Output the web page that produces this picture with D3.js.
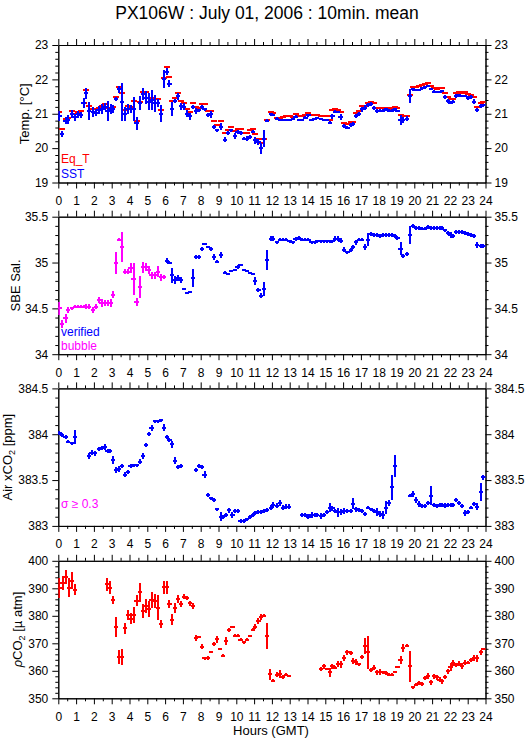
<!DOCTYPE html>
<html>
<head>
<meta charset="utf-8">
<script src="https://cdn.jsdelivr.net/npm/d3@7"></script>
<style>
body { margin: 0; background: #fff; }
svg { display: block; font-family: "Liberation Sans", Arial, Helvetica, sans-serif; }
</style>
</head>
<body>
<svg width="529" height="739"></svg>
<script>
// ---- data (hours GMT) ----
var hoursA = [0.06,0.22,0.41,0.56,0.75,0.92,1.09,1.25,1.42,1.55,1.74,1.93,2.10,2.27,2.43,2.60,2.77,2.96,
  3.09,3.24,3.41,3.58,3.73,3.91,4.06,4.23,4.40,4.57,4.74,4.93,5.09,5.24,5.43,5.60,5.75,5.94,
  6.09,6.24,6.39,6.54,6.72,6.89,7.06,7.23,7.40,7.58,7.75,7.90,8.09,8.22,8.39,8.56,8.73,8.91,
  9.12,9.36,9.55,9.72,9.91,10.07,10.24,10.43,10.60,10.77,10.92,11.05,11.24,11.39];
var hoursB = [11.56,11.74,11.93,12.08,12.27,12.44,12.62,12.81,12.99,13.18,13.33,13.52,13.71,13.88,14.05,
  14.23,14.40,14.55,14.74,14.93,15.08,15.25,15.40,15.55,15.71,15.86,16.05,16.24,16.43,16.56,
  16.74,16.89,17.08,17.23,17.40,17.55,17.74,17.89,18.06,18.24,18.39,18.58,18.73,18.90,19.05,
  19.23,19.38,19.57,19.74,19.93,20.11,20.26,20.45,20.60,20.77,20.92,21.11,21.26,21.42,21.57,
  21.72,21.89,22.04,22.19,22.36,22.51,22.70,22.85,23.02,23.20,23.35,23.54,23.73,23.88];

// panel 1: temperature
var tempHours = hoursA.concat(hoursB);
var sst = [20.93,20.41,20.8,20.83,21.0,20.9, 20.99,20.97,21.32,21.59,21.08,21.06, 21.03,21.1,21.13,21.2,21.08,21.13,
  21.14,21.43,21.71,21.34,20.99,21.14, 21.13,21.13,20.72,21.32,21.57,21.47, 21.35,21.4,21.3,21.32,21.0,22.01,
  22.22,21.88,21.14,21.37,21.51,21.22, 21.2,21.0,20.93,21.2,21.08,21.1, 21.2,21.13,20.96,20.98,20.62,20.52,
  20.62,20.25,20.45,20.52,20.35, 20.46,20.43,20.28,20.28,20.33,20.48, 20.23,20.18,19.99,
  20.28,20.8,20.98,20.96,20.86,20.82,20.82,20.83,20.83,20.86, 20.91,20.83,20.83,20.89,20.95,20.83,20.86,20.89,20.86,20.83,
  20.83,20.74,20.93,21.06,21.06,20.91,20.64,20.6,20.67,20.7, 20.93,20.99,21.13,21.18,21.25,21.28,21.18,21.08,21.09,21.09,
  21.13,21.09,21.09,21.13,21.08,20.82,20.82,20.86,21.51,21.71, 21.69,21.69,21.74,21.77,21.81,21.72,21.64,21.64,21.64,21.66,
  21.48,21.37,21.32,21.35,21.51,21.54,21.52,21.52,21.45,21.48, 21.35,21.11,21.22,21.25];
var sstSd = [.15,.1,.1,.12,.12,.1, .1,.08,.15,.15,.25,.15, .1,.12,.15,.1,.3,.15, .12,.05,.1,.55,.2,.15,
  .12,.35,.2,.2,.17,.2, .25,.3,.25,.12,.25,.25, .1,.1,.2,.05,.1,.1, .1,.1,.1,.05,.08,.05,
  .05,.05,.06,.1,.06,.05, .1,.06,.06,.05,.08, .06,.06,.05,.06,.05,.05, .1,.1,.15,
  .25,.05,.04,.03,.04,.04,.03,.03,.03,.03, .04,.03,.03,.04,.04,.03,.03,.03,.03,.03,
  .03,.05,.07,.04,.03,.08,.05,.04,.05,.06, .06,.05,.08,.08,.06,.05,.06,.07,.05,.05,
  .05,.04,.04,.04,.03,.15,.1,.07,.2,.04, .04,.03,.04,.04,.04,.04,.04,.03,.03,.04,
  .06,.05,.05,.05,.06,.04,.04,.03,.06,.06, .07,.06,.05,.04];
var eqT = [21.06,20.57,20.86,20.88,21.09,21.0, 21.04,21.08,21.32,21.69,21.23,21.15, 21.13,21.17,21.22,21.28,21.18,21.17,
  21.2,21.5,21.79,21.59,21.1,21.22, 21.2,21.37,20.79,21.35,21.62,21.64, 21.45,21.45,21.42,21.42,21.1,22.03,
  22.35,22.08,21.37,21.47,21.59,21.38, 21.32,21.13,21.04,21.3,21.2,21.18, 21.28,21.27,21.08,21.09,20.79,20.67,
  20.8,20.43,20.54,20.62,20.5, 20.57,20.57,20.43,20.43,20.52,20.55, 20.4,20.28,20.16,
  20.28,20.83,21.06,21.01,20.89,20.89,20.91,20.93,20.93,20.91, 20.99,20.93,20.93,20.96,21.03,20.96,20.96,20.96,20.94,20.94,
  20.94,20.83,21.1,21.13,21.11,21.06,20.74,20.7,20.76,20.77, 21.03,21.08,21.22,21.22,21.3,21.35,21.3,21.18,21.18,21.18,
  21.18,21.15,21.18,21.2,21.18,20.96,20.94,20.94,21.55,21.79, 21.79,21.81,21.84,21.87,21.89,21.81,21.74,21.72,21.74,21.76,
  21.59,21.48,21.42,21.42,21.59,21.62,21.61,21.62,21.57,21.56, 21.5,21.2,21.3,21.35];

// panel 2: salinity (bubble-flagged first, then verified)
var bubbleHours = hoursA.slice(0, 36);
var bubbleSal = [34.5,34.33,34.39,34.48,34.5,34.52, 34.52,34.52,34.52,34.52,34.52,34.48, 34.52,34.59,34.56,34.56,34.56,34.56,
  34.65,35.0,35.25,35.17,34.9,34.9, 34.94,34.82,34.57,34.73,34.95,34.95, 34.92,34.86,34.86,34.9,34.84,34.84];
var bubbleSd = [.07,.04,.05,.03,.02,.02, .02,.02,.02,.03,.03,.03, .03,.03,.04,.03,.03,.04,
  .04,.12,.02,.16,.03,.03, .05,.17,.04,.12,.06,.04, .04,.04,.04,.06,.04,.02];
var salHours = hoursA.slice(36).concat(hoursB);
var sal = [35.02,35.0,34.86,34.81,34.83,34.81,34.71,34.67,34.68,34.83,35.06,35.06,35.15,35.2,35.17,35.15,
  35.06,35.01,35.08,34.89,34.87,34.91,34.92,34.95,34.97,34.92,34.91,34.89,34.88,34.8,34.7,34.64,
  34.71,35.03,35.26,35.26,35.22,35.25,35.25,35.25,35.23,35.22, 35.26,35.27,35.25,35.25,35.25,35.22,35.22,35.23,35.23,35.23,
  35.23,35.23,35.23,35.26,35.26,35.24,35.14,35.11,35.14,35.17, 35.22,35.25,35.25,35.17,35.25,35.31,35.3,35.3,35.29,35.3,
  35.3,35.3,35.3,35.29,35.27,35.15,35.07,35.09,35.3,35.4, 35.38,35.38,35.37,35.37,35.39,35.38,35.38,35.38,35.38,35.38,
  35.35,35.32,35.3,35.29,35.33,35.33,35.33,35.32,35.31,35.3, 35.29,35.19,35.18,35.18];
var salSd = [.03,.02,.08,.04,.03,.03,.01,.01,.01,.1,.02,.02,.02,.01,.01,.02,
  .03,.02,.03,.02,.01,.01,.01,.02,.01,.01,.01,.01,.01,.04,.02,.03,
  .08,.11,.03,.03,.02,.02,.02,.02,.02,.02, .02,.02,.02,.02,.02,.02,.02,.02,.02,.02,
  .02,.02,.02,.03,.03,.03,.03,.02,.02,.02, .03,.02,.02,.03,.07,.02,.02,.02,.02,.02,
  .02,.02,.02,.02,.02,.07,.02,.02,.1,.02, .02,.02,.02,.02,.02,.02,.02,.02,.02,.02,
  .02,.02,.03,.02,.02,.02,.02,.02,.02,.02, .02,.03,.02,.02];

// panel 3: air xCO2
var airHours = [0.06,0.22,0.41,0.56,0.75,0.92,
  1.72,1.87,2.04,2.27,2.43,2.60,2.77,2.92,
  3.09,3.24,3.41,3.58,3.73,3.91,4.06,4.23,4.40,4.57,4.74,4.93,5.09,5.24,5.43,5.60,5.75,5.94,6.09,6.24,6.39,6.54,6.72,6.89,
  7.75,7.90,8.09,8.22,8.39,8.56,8.73,8.91,9.12,9.27,9.44,9.59,9.78,9.91,10.07,10.24,10.43,10.60,10.77,10.92,11.05,11.24,11.39,11.55,
  11.74,11.93,12.08,12.27,12.44,12.62,12.81,12.96,
  13.71,13.88,14.05,14.23,14.40,14.55,14.74,14.93,15.08,15.25,15.40,15.55,15.71,15.86,16.05,16.24,16.43,16.56,
  16.74,16.89,17.08,17.23,17.40,17.55,17.74,17.89,18.06,18.24,18.39,18.58,18.73,18.90,
  19.74,19.93,20.11,20.26,20.45,20.60,20.77,20.92,21.11,21.26,21.42,21.57,21.72,21.89,22.04,22.19,22.36,22.51,
  22.70,22.85,23.02,23.20,23.35,23.54,23.73,23.88];
var airCO2 = [384.01,383.99,383.97,383.92,383.9,383.97,
  383.76,383.8,383.79,383.84,383.85,383.86,383.82,383.82,
  383.72,383.61,383.62,383.65,383.56,383.59,383.65,383.66,383.66,383.7,383.76,383.88,384.0,384.07,384.14,384.14,384.15,384.07,
  383.97,383.94,383.89,383.71,383.64,383.65,
  383.61,383.65,383.64,383.56,383.34,383.3,383.28,383.18,383.1,383.1,383.12,383.17,383.12,383.16,383.16,383.05,383.05,383.07,
  383.1,383.12,383.14,383.15,383.15,383.16,
  383.17,383.2,383.23,383.22,383.25,383.2,383.21,383.21,
  383.12,383.12,383.1,383.12,383.12,383.12,383.11,383.12,383.15,383.2,383.19,383.16,383.15,383.15,383.16,383.16,383.16,383.24,
  383.18,383.17,383.16,383.13,383.2,383.18,383.16,383.15,383.13,383.12,383.2,383.25,383.42,383.65,
  383.33,383.35,383.28,383.24,383.22,383.22,383.25,383.33,383.23,383.22,383.23,383.23,383.22,383.23,383.23,383.23,383.28,383.25,
  383.22,383.14,383.15,383.2,383.24,383.21,383.37,383.53];
var airSd = [.02,.02,.02,.02,.02,.08,
  .03,.03,.03,.02,.02,.03,.02,.02,
  .04,.03,.03,.02,.03,.02,.02,.02,.02,.03,.03,.02,.02,.03,.02,.02,.02,.04,.02,.02,.04,.04,.02,.02,
  .02,.02,.02,.04,.02,.02,.02,.02,.05,.02,.02,.03,.03,.02,.02,.02,.02,.02,.02,.02,.02,.02,.02,.02,
  .02,.03,.03,.03,.03,.03,.03,.03,
  .02,.02,.03,.03,.02,.02,.03,.02,.02,.05,.03,.02,.05,.03,.03,.02,.02,.06,
  .03,.02,.02,.02,.02,.02,.02,.04,.03,.04,.07,.03,.14,.12,
  .02,.03,.03,.03,.02,.02,.02,.1,.02,.02,.02,.02,.03,.02,.02,.02,.02,.02,
  .02,.03,.02,.02,.02,.04,.1,.03];

// panel 4: pCO2
var pco2Hours = [0.06,0.24,0.41,0.60,0.75,0.92, 2.73,2.90,
  3.09,3.24,3.41,3.58,3.73,3.91,4.06,4.23,4.40,4.57,4.74,4.93,5.09,5.24,5.43,5.60,5.75,5.94,6.09,6.24,6.39,6.54,6.72,6.89,
  7.06,7.23,7.40,7.58,7.75,7.90,8.09,8.22,8.39,8.56,8.73,8.90,9.08,9.25,9.42,9.59,9.78,9.91,10.07,10.24,10.43,10.60,
  10.77,10.92,11.05,11.24,11.39,11.55,
  11.74,11.89,12.08,12.27,12.44,12.62,12.81,12.96,
  14.74,14.93,15.08,15.25,15.40,15.55,15.71,15.86,16.05,16.24,16.43,16.56,16.74,16.89,
  17.08,17.23,17.40,17.55,17.74,17.89,18.06,18.24,18.39,18.58,18.73,18.90,
  19.05,19.23,19.38,19.57,19.74,19.93,20.11,20.26,20.45,20.60,20.77,20.92,
  21.11,21.26,21.42,21.57,21.72,21.89,22.04,22.19,22.36,22.51,22.70,22.85,
  23.02,23.20,23.35,23.54,23.73,23.88];
var pco2 = [390.0,391.8,394.2,390.2,392.8,389.4, 391.5,390.2,
  385.7,375.8,365.0,365.0,375.5,380.3,378.9,380.3,385.4,388.5,381.8,383.6,382.4,385.7,385.4,383.0,376.9,390.3,390.3,384.3,
  378.5,382.7,386.0,384.3,
  387.0,386.4,384.5,383.6,371.9,372.2,368.8,364.6,364.6,366.8,369.8,371.5,368.0,365.5,370.9,374.9,375.8,372.8,372.8,371.3,
  370.4,371.3,372.7,374.9,376.1,378.1,379.5,380.0,
  372.7,358.8,356.4,358.6,358.8,357.7,358.6,358.2,
  360.6,361.6,360.7,359.4,361.6,361.2,362.4,362.4,364.6,366.7,366.4,363.6,363.2,362.4,
  365.0,369.1,366.8,360.4,361.2,359.4,359.5,359.5,359.2,358.6,358.6,359.5,
  361.4,364.0,368.2,369.2,361.6,354.0,355.0,355.6,355.3,357.4,358.2,355.8,
  358.0,357.6,356.8,356.2,357.7,359.8,361.4,362.8,362.2,362.6,361.8,363.0,
  363.0,364.0,364.6,364.6,366.7,367.9];
var pco2Sd = [3.6,2.5,2.5,3.5,3,2, 2.3,2.3,
  1.5,3.6,2.4,3,2,1.8,2,3,2,3.3,2.5,2.5,3,3,2.5,4.5,1.5,2.5,2.5,1.5,2,1.8,1.5,1,
  1,0.8,0.8,1,1,0.3,1,0.5,0.8,0.5,0.8,1.3,0.3,0.5,1.5,0.8,0.4,0.5,0.5,0.5,0.5,0.5,0.3,0.5,1,1,1,0.5,
  4.8,2,0.5,1,1.5,0.8,0.5,0.3,
  0.8,0.8,0.5,1.5,1,0.5,1,1.3,1,1,0.8,1,1,0.5,
  0.8,3,6,0.8,0.8,1,1,0.5,0.8,0.5,0.5,0.3,
  0.5,1.5,1.5,0.5,5.5,0.5,0.5,0.8,0.8,0.8,1,0.8,
  0.8,0.8,1,1,0.8,1,1.5,1,0.8,0.8,1,1,
  0.5,0.8,1,1.3,0.8,0.5];

// ticks
var hourTicks = [0,1,2,3,4,5,6,7,8,9,10,11,12,13,14,15,16,17,18,19,20,21,22,23,24];
var tempTicks = [19,20,21,22,23];
var salTicks = [34,34.5,35,35.5];
var airTicks = [383,383.5,384,384.5];
var pco2Ticks = [350,360,370,380,390,400];

// ---- layout ----
var svg = d3.select("svg"),
    left = 58.3, right = 485.5,
    panelH = 137.5,
    tops = [45, 216.7, 388.4, 560.8];

var x = d3.scaleLinear().domain([0, 24]).range([left, right]);

var halfHours = [];
hourTicks.forEach(function(h) { if (h < 24) halfHours.push(h + 0.5); });

function minorTicks(major, n) {
  var out = [];
  for (var i = 0; i < major.length - 1; i++) {
    var step = (major[i + 1] - major[i]) / n;
    for (var k = 1; k < n; k++) out.push(major[i] + k * step);
  }
  return out;
}

function styleAxis(g) {
  g.attr("font-family", null).attr("font-size", 12);
  g.selectAll("path.domain").attr("stroke", "#000");
  g.selectAll("line").attr("stroke", "#000");
  g.selectAll("text").attr("fill", "#000");
}

function panel(i, ticks, nMinor, label, labelX) {
  var top = tops[i], bottom = top + panelH;
  var y = d3.scaleLinear().domain([ticks[0], ticks[ticks.length - 1]]).range([bottom, top]);
  var g = svg.append("g");
  var fmt = function(d) { return String(+d.toFixed(1)); };
  var minor = minorTicks(ticks, nMinor);

  g.append("g").attr("transform", "translate(0," + bottom + ")")
    .call(d3.axisBottom(x).tickValues(hourTicks).tickSize(6).tickSizeOuter(0).tickPadding(8).tickFormat(d3.format("d")))
    .call(styleAxis);
  g.append("g").attr("transform", "translate(0," + bottom + ")")
    .call(d3.axisBottom(x).tickValues(halfHours).tickSize(3).tickSizeOuter(0).tickFormat(""))
    .call(styleAxis);
  g.append("g").attr("transform", "translate(0," + top + ")")
    .call(d3.axisTop(x).tickValues(hourTicks).tickSize(6).tickSizeOuter(0).tickFormat(""))
    .call(styleAxis);
  g.append("g").attr("transform", "translate(0," + top + ")")
    .call(d3.axisTop(x).tickValues(halfHours).tickSize(3).tickSizeOuter(0).tickFormat(""))
    .call(styleAxis);
  g.append("g").attr("transform", "translate(" + left + ",0)")
    .call(d3.axisLeft(y).tickValues(ticks).tickSize(6).tickSizeOuter(0).tickPadding(4).tickFormat(fmt))
    .call(styleAxis);
  g.append("g").attr("transform", "translate(" + left + ",0)")
    .call(d3.axisLeft(y).tickValues(minor).tickSize(3).tickSizeOuter(0).tickFormat(""))
    .call(styleAxis);
  g.append("g").attr("transform", "translate(" + right + ",0)")
    .call(d3.axisRight(y).tickValues(ticks).tickSize(6).tickSizeOuter(0).tickPadding(3).tickFormat(fmt))
    .call(styleAxis);
  g.append("g").attr("transform", "translate(" + right + ",0)")
    .call(d3.axisRight(y).tickValues(minor).tickSize(3).tickSizeOuter(0).tickFormat(""))
    .call(styleAxis);

  svg.append("clipPath").attr("id", "clip" + i).append("rect")
    .attr("x", left).attr("y", top).attr("width", right - left).attr("height", panelH);

  var t = svg.append("text")
    .attr("transform", "translate(" + labelX + "," + (top + panelH / 2) + ") rotate(-90)")
    .attr("text-anchor", "middle").attr("font-size", 13).attr("fill", "#000");
  label(t);

  return { y: y, g: svg.append("g").attr("clip-path", "url(#clip" + i + ")"), top: top, bottom: bottom };
}

function crosses(p, hours, vals, sds, color, hw) {
  var pts = hours.map(function(h, i) { return { h: h, v: vals[i], s: sds ? sds[i] : 0 }; });
  var sel = p.g.append("g").attr("stroke", color).attr("stroke-width", 2)
    .attr("shape-rendering", "crispEdges")
    .selectAll("g").data(pts).enter().append("g");
  sel.append("line")
    .attr("x1", function(d) { return x(d.h - hw); })
    .attr("x2", function(d) { return x(d.h + hw); })
    .attr("y1", function(d) { return p.y(d.v); })
    .attr("y2", function(d) { return p.y(d.v); });
  if (sds) {
    sel.append("line")
      .attr("x1", function(d) { return x(d.h); })
      .attr("x2", function(d) { return x(d.h); })
      .attr("y1", function(d) { return p.y(d.v - d.s); })
      .attr("y2", function(d) { return p.y(d.v + d.s); });
  }
}

function legend(x0, y0, txt, color) {
  svg.append("text").attr("x", x0).attr("y", y0).attr("font-size", 12)
    .attr("fill", color).text(txt);
}

// title
svg.append("text").attr("x", 267).attr("y", 18.5).attr("text-anchor", "middle")
  .attr("font-size", 17.5).attr("fill", "#000")
  .text("PX106W : July 01, 2006 : 10min. mean");

// panel 1
var p1 = panel(0, tempTicks, 5, function(t) { t.text("Temp. [°C]"); }, 28.5);
crosses(p1, tempHours, eqT, null, "#ff0000", 0.17);
crosses(p1, tempHours, sst, sstSd, "#0000ff", 0.12);
legend(61, 163, "Eq_T", "#ff0000");
legend(61, 177.5, "SST", "#0000ff");

// panel 2
var p2 = panel(1, salTicks, 5, function(t) { t.text("SBE Sal."); }, 20);
crosses(p2, bubbleHours, bubbleSal, bubbleSd, "#ff00ff", 0.12);
crosses(p2, salHours, sal, salSd, "#0000ff", 0.12);
legend(61, 335.5, "verified", "#0000ff");
legend(61, 349.5, "bubble", "#ff00ff");

// panel 3
var p3 = panel(2, airTicks, 5, function(t) {
  t.append("tspan").text("Air xCO");
  t.append("tspan").attr("font-size", 9).attr("dy", 3).text("2");
  t.append("tspan").attr("dy", -3).text(" [ppm]");
}, 12);
crosses(p3, airHours, airCO2, airSd, "#0000ff", 0.12);
legend(61, 508, "σ ≥ 0.3", "#ff00ff");

// panel 4
var p4 = panel(3, pco2Ticks, 5, function(t) {
  t.append("tspan").attr("font-style", "italic").text("ρ");
  t.append("tspan").text("CO");
  t.append("tspan").attr("font-size", 9).attr("dy", 3).text("2");
  t.append("tspan").attr("dy", -3).text(" [µ atm]");
}, 21.5);
crosses(p4, pco2Hours, pco2, pco2Sd, "#ff0000", 0.12);

svg.append("text").attr("x", 271).attr("y", 735).attr("text-anchor", "middle")
  .attr("font-size", 13).attr("fill", "#000").text("Hours (GMT)");
</script>
</body>
</html>
